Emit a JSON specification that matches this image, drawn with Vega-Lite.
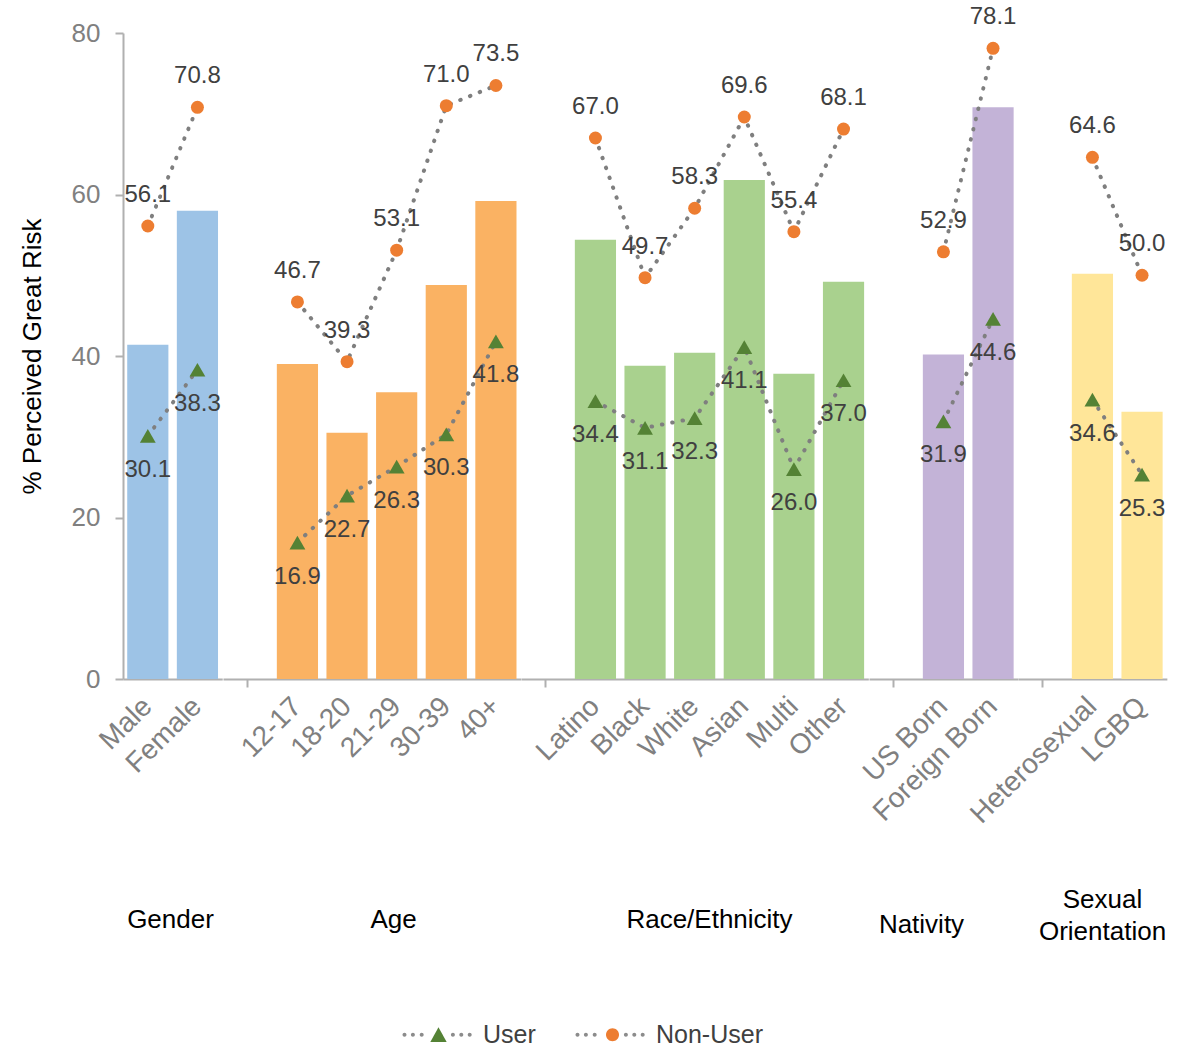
{
  "$schema": "https://vega.github.io/schema/vega-lite/v6.json",
  "background": "white",
  "padding": {"left": 19, "top": 5, "right": 5, "bottom": 0},
  "config": {"font": "Liberation Sans", "view": {"stroke": null}},
  "data": {"values": [
    {"Group": "Gender", "Category": "Male", "Overall": 41.4, "User": 30.1, "Non-User": 56.1},
    {"Group": "Gender", "Category": "Female", "Overall": 58.0, "User": 38.3, "Non-User": 70.8},
    {"Group": "Age", "Category": "12-17", "Overall": 39.0, "User": 16.9, "Non-User": 46.7},
    {"Group": "Age", "Category": "18-20", "Overall": 30.5, "User": 22.7, "Non-User": 39.3},
    {"Group": "Age", "Category": "21-29", "Overall": 35.5, "User": 26.3, "Non-User": 53.1},
    {"Group": "Age", "Category": "30-39", "Overall": 48.8, "User": 30.3, "Non-User": 71.0},
    {"Group": "Age", "Category": "40+", "Overall": 59.2, "User": 41.8, "Non-User": 73.5},
    {"Group": "Race/Ethnicity", "Category": "Latino", "Overall": 54.4, "User": 34.4, "Non-User": 67.0},
    {"Group": "Race/Ethnicity", "Category": "Black", "Overall": 38.8, "User": 31.1, "Non-User": 49.7},
    {"Group": "Race/Ethnicity", "Category": "White", "Overall": 40.4, "User": 32.3, "Non-User": 58.3},
    {"Group": "Race/Ethnicity", "Category": "Asian", "Overall": 61.8, "User": 41.1, "Non-User": 69.6},
    {"Group": "Race/Ethnicity", "Category": "Multi", "Overall": 37.8, "User": 26.0, "Non-User": 55.4},
    {"Group": "Race/Ethnicity", "Category": "Other", "Overall": 49.2, "User": 37.0, "Non-User": 68.1},
    {"Group": "Nativity", "Category": "US Born", "Overall": 40.2, "User": 31.9, "Non-User": 52.9},
    {"Group": "Nativity", "Category": "Foreign Born", "Overall": 70.8, "User": 44.6, "Non-User": 78.1},
    {"Group": "Sexual Orientation", "Category": "Heterosexual", "Overall": 50.2, "User": 34.6, "Non-User": 64.6},
    {"Group": "Sexual Orientation", "Category": "LGBQ", "Overall": 33.1, "User": 25.3, "Non-User": 50.0}
  ]},
  "spacing": 0,
  "bounds": "flush",
  "resolve": {"scale": {"x": "independent", "y": "shared", "fill": "shared", "color": "shared"}, "legend": {"color": "shared"}},
  "hconcat": [
    {
      "width": {"step": 49.619}, "height": 646,
      "transform": [{"filter": "datum.Group == 'Gender'"}],
      "encoding": {"x": {"field": "Category", "type": "nominal",
        "scale": {"domain": ["Male", "Female"], "paddingInner": 0.17, "paddingOuter": 0.085},
        "axis": {"title": "Gender", "titleX": 47, "titleY": 240, "titleAlign": "center", "titleBaseline": "middle", "titleAngle": 0, "titleFontSize": 26, "titleFontWeight": "normal", "titleColor": "#000000", "titleLineHeight": 32,
          "labelAngle": -45, "labelAlign": "right", "labelBaseline": "middle", "labelFontSize": 28, "labelColor": "#808080", "labelPadding": 15, "labelOverlap": false,
          "tickSize": 8, "tickWidth": 2, "tickColor": "#B0B0B0", "tickOpacity": {"condition": {"test": "datum.value == ' '", "value": 1}, "value": 0},
          "domainColor": "#B0B0B0", "domainWidth": 2, "grid": false}}},
      "layer": [
        {"mark": {"type": "bar"},
         "encoding": {
           "y": {"field": "Overall", "type": "quantitative", "scale": {"domain": [0, 80]},
             "axis": {"title": "% Perceived Great Risk", "values": [0, 20, 40, 60, 80], "grid": false, "domainColor": "#B0B0B0", "domainWidth": 2, "tickColor": "#B0B0B0", "tickWidth": 2, "tickSize": 8, "labelFontSize": 26, "labelColor": "#808080", "labelPadding": 15, "titleFontSize": 26, "titleFontWeight": "normal", "titleColor": "#000000", "titlePadding": 26}},
           "fill": {"field": "Group", "type": "nominal", "scale": {"domain": ["Gender", "Age", "Race/Ethnicity", "Nativity", "Sexual Orientation"], "range": ["#9DC3E6", "#FAB263", "#A9D18E", "#C3B3D7", "#FFE699"]}, "legend": null}}},
        {"transform": [{"fold": ["User", "Non-User"], "as": ["Series", "Value"]}],
         "encoding": {"y": {"field": "Value", "type": "quantitative", "scale": {"domain": [0, 80]},
             "axis": {"title": "% Perceived Great Risk", "values": [0, 20, 40, 60, 80], "grid": false, "domainColor": "#B0B0B0", "domainWidth": 2, "tickColor": "#B0B0B0", "tickWidth": 2, "tickSize": 8, "labelFontSize": 26, "labelColor": "#808080", "labelPadding": 15, "titleFontSize": 26, "titleFontWeight": "normal", "titleColor": "#000000", "titlePadding": 26}}},
         "layer": [
           {"mark": {"type": "line", "color": "#7F7F7F", "strokeWidth": 4, "strokeDash": [0.5, 10], "strokeCap": "round"},
            "encoding": {"detail": {"field": "Series"},
              "stroke": {"field": "Series", "type": "nominal", "sort": "descending", "scale": {"range": ["#7F7F7F", "#7F7F7F"]},
                "legend": {"orient": "none", "legendX": 303, "legendY": 989, "direction": "horizontal", "title": null, "padding": 0, "labelFontSize": 25, "labelColor": "#404040", "labelOffset": 32, "columnPadding": 39, "symbolSize": 256, "symbolStrokeWidth": 0,
                  "encoding": {"symbols": {
                    "shape": {"value": "M-4.5,0a0.25,0.25 0 1,0 0.5,0a0.25,0.25 0 1,0 -0.5,0M-3.45,0a0.25,0.25 0 1,0 0.5,0a0.25,0.25 0 1,0 -0.5,0M-2.35,0a0.25,0.25 0 1,0 0.5,0a0.25,0.25 0 1,0 -0.5,0M1.55,0a0.25,0.25 0 1,0 0.5,0a0.25,0.25 0 1,0 -0.5,0M2.6,0a0.25,0.25 0 1,0 0.5,0a0.25,0.25 0 1,0 -0.5,0M3.65,0a0.25,0.25 0 1,0 0.5,0a0.25,0.25 0 1,0 -0.5,0"},
                    "fill": {"value": "#8C8C8C"},
                    "stroke": {"value": "transparent"},
                    "size": {"value": 256},
                    "opacity": {"value": 1}}}}}}},
           {"transform": [{"filter": "datum.Series == 'User'"}], "mark": {"type": "point", "shape": "triangle-up", "filled": true, "opacity": 1, "size": 250},
            "encoding": {"color": {"field": "Series", "type": "nominal", "scale": {"domain": ["User", "Non-User"], "range": ["#548235", "#ED7D31"]},
              "legend": {"orient": "none", "legendX": 303, "legendY": 989, "direction": "horizontal", "title": null, "padding": 0, "labelFontSize": 25, "labelExpr": "''", "labelOffset": 0, "columnPadding": 149, "symbolSize": 256, "symbolStrokeWidth": 0,
                "encoding": {"symbols": {
                  "shape": {"value": {"expr": "datum.value == 'User' ? 'M-1.02,0.9L1.02,0.9L0,-0.95Z' : 'M-0.8125,0a0.8125,0.8125 0 1,0 1.625,0a0.8125,0.8125 0 1,0 -1.625,0'"}},
                  "size": {"value": 256},
                  "stroke": {"value": "transparent"},
                  "opacity": {"value": 1}}}}}}},
           {"transform": [{"filter": "datum.Series == 'Non-User'"}], "mark": {"type": "point", "shape": "circle", "filled": true, "opacity": 1, "size": 169},
            "encoding": {"color": {"field": "Series", "type": "nominal", "scale": {"domain": ["User", "Non-User"], "range": ["#548235", "#ED7D31"]}}}},
           {"transform": [{"filter": "datum.Series == 'User'"}], "mark": {"type": "text", "dy": 34, "fontSize": 24, "color": "#404040"}, "encoding": {"text": {"field": "Value", "type": "quantitative", "format": ".1f"}}},
           {"transform": [{"filter": "datum.Series == 'Non-User'"}], "mark": {"type": "text", "dy": -31, "fontSize": 24, "color": "#404040"}, "encoding": {"text": {"field": "Value", "type": "quantitative", "format": ".1f"}}}
         ]}
      ]
    },
    {
      "width": {"step": 49.619}, "height": 646,
      "transform": [{"filter": "datum.Group == 'Age'"}],
      "encoding": {"x": {"field": "Category", "type": "nominal",
        "scale": {"domain": [" ", "12-17", "18-20", "21-29", "30-39", "40+"], "paddingInner": 0.17, "paddingOuter": 0.085},
        "axis": {"title": "Age", "titleX": 170, "titleY": 240, "titleAlign": "center", "titleBaseline": "middle", "titleAngle": 0, "titleFontSize": 26, "titleFontWeight": "normal", "titleColor": "#000000", "titleLineHeight": 32,
          "labelAngle": -45, "labelAlign": "right", "labelBaseline": "middle", "labelFontSize": 28, "labelColor": "#808080", "labelPadding": 15, "labelOverlap": false,
          "tickSize": 8, "tickWidth": 2, "tickColor": "#B0B0B0", "tickOpacity": {"condition": {"test": "datum.value == ' '", "value": 1}, "value": 0},
          "domainColor": "#B0B0B0", "domainWidth": 2, "grid": false}}},
      "layer": [
        {"mark": {"type": "bar"},
         "encoding": {
           "y": {"field": "Overall", "type": "quantitative", "scale": {"domain": [0, 80]}, "axis": null},
           "fill": {"field": "Group", "type": "nominal", "scale": {"domain": ["Gender", "Age", "Race/Ethnicity", "Nativity", "Sexual Orientation"], "range": ["#9DC3E6", "#FAB263", "#A9D18E", "#C3B3D7", "#FFE699"]}, "legend": null}}},
        {"transform": [{"fold": ["User", "Non-User"], "as": ["Series", "Value"]}],
         "encoding": {"y": {"field": "Value", "type": "quantitative", "scale": {"domain": [0, 80]}, "axis": null}},
         "layer": [
           {"mark": {"type": "line", "color": "#7F7F7F", "strokeWidth": 4, "strokeDash": [0.5, 10], "strokeCap": "round"}, "encoding": {"detail": {"field": "Series"}}},
           {"transform": [{"filter": "datum.Series == 'User'"}], "mark": {"type": "point", "shape": "triangle-up", "filled": true, "opacity": 1, "size": 250},
            "encoding": {"color": {"field": "Series", "type": "nominal", "scale": {"domain": ["User", "Non-User"], "range": ["#548235", "#ED7D31"]}}}},
           {"transform": [{"filter": "datum.Series == 'Non-User'"}], "mark": {"type": "point", "shape": "circle", "filled": true, "opacity": 1, "size": 169},
            "encoding": {"color": {"field": "Series", "type": "nominal", "scale": {"domain": ["User", "Non-User"], "range": ["#548235", "#ED7D31"]}}}},
           {"transform": [{"filter": "datum.Series == 'User'"}], "mark": {"type": "text", "dy": 34, "fontSize": 24, "color": "#404040"}, "encoding": {"text": {"field": "Value", "type": "quantitative", "format": ".1f"}}},
           {"transform": [{"filter": "datum.Series == 'Non-User'"}], "mark": {"type": "text", "dy": -31, "fontSize": 24, "color": "#404040"}, "encoding": {"text": {"field": "Value", "type": "quantitative", "format": ".1f"}}}
         ]}
      ]
    },
    {
      "width": {"step": 49.619}, "height": 646,
      "transform": [{"filter": "datum.Group == 'Race/Ethnicity'"}],
      "encoding": {"x": {"field": "Category", "type": "nominal",
        "scale": {"domain": [" ", "Latino", "Black", "White", "Asian", "Multi", "Other"], "paddingInner": 0.17, "paddingOuter": 0.085},
        "axis": {"title": "Race/Ethnicity", "titleX": 188, "titleY": 240, "titleAlign": "center", "titleBaseline": "middle", "titleAngle": 0, "titleFontSize": 26, "titleFontWeight": "normal", "titleColor": "#000000", "titleLineHeight": 32,
          "labelAngle": -45, "labelAlign": "right", "labelBaseline": "middle", "labelFontSize": 28, "labelColor": "#808080", "labelPadding": 15, "labelOverlap": false,
          "tickSize": 8, "tickWidth": 2, "tickColor": "#B0B0B0", "tickOpacity": {"condition": {"test": "datum.value == ' '", "value": 1}, "value": 0},
          "domainColor": "#B0B0B0", "domainWidth": 2, "grid": false}}},
      "layer": [
        {"mark": {"type": "bar"},
         "encoding": {
           "y": {"field": "Overall", "type": "quantitative", "scale": {"domain": [0, 80]}, "axis": null},
           "fill": {"field": "Group", "type": "nominal", "scale": {"domain": ["Gender", "Age", "Race/Ethnicity", "Nativity", "Sexual Orientation"], "range": ["#9DC3E6", "#FAB263", "#A9D18E", "#C3B3D7", "#FFE699"]}, "legend": null}}},
        {"transform": [{"fold": ["User", "Non-User"], "as": ["Series", "Value"]}],
         "encoding": {"y": {"field": "Value", "type": "quantitative", "scale": {"domain": [0, 80]}, "axis": null}},
         "layer": [
           {"mark": {"type": "line", "color": "#7F7F7F", "strokeWidth": 4, "strokeDash": [0.5, 10], "strokeCap": "round"}, "encoding": {"detail": {"field": "Series"}}},
           {"transform": [{"filter": "datum.Series == 'User'"}], "mark": {"type": "point", "shape": "triangle-up", "filled": true, "opacity": 1, "size": 250},
            "encoding": {"color": {"field": "Series", "type": "nominal", "scale": {"domain": ["User", "Non-User"], "range": ["#548235", "#ED7D31"]}}}},
           {"transform": [{"filter": "datum.Series == 'Non-User'"}], "mark": {"type": "point", "shape": "circle", "filled": true, "opacity": 1, "size": 169},
            "encoding": {"color": {"field": "Series", "type": "nominal", "scale": {"domain": ["User", "Non-User"], "range": ["#548235", "#ED7D31"]}}}},
           {"transform": [{"filter": "datum.Series == 'User'"}], "mark": {"type": "text", "dy": 34, "fontSize": 24, "color": "#404040"}, "encoding": {"text": {"field": "Value", "type": "quantitative", "format": ".1f"}}},
           {"transform": [{"filter": "datum.Series == 'Non-User'"}], "mark": {"type": "text", "dy": -31, "fontSize": 24, "color": "#404040"}, "encoding": {"text": {"field": "Value", "type": "quantitative", "format": ".1f"}}}
         ]}
      ]
    },
    {
      "width": {"step": 49.619}, "height": 646,
      "transform": [{"filter": "datum.Group == 'Nativity'"}],
      "encoding": {"x": {"field": "Category", "type": "nominal",
        "scale": {"domain": [" ", "US Born", "Foreign Born"], "paddingInner": 0.17, "paddingOuter": 0.085},
        "axis": {"title": "Nativity", "titleX": 52, "titleY": 245, "titleAlign": "center", "titleBaseline": "middle", "titleAngle": 0, "titleFontSize": 26, "titleFontWeight": "normal", "titleColor": "#000000", "titleLineHeight": 32,
          "labelAngle": -45, "labelAlign": "right", "labelBaseline": "middle", "labelFontSize": 28, "labelColor": "#808080", "labelPadding": 15, "labelOverlap": false,
          "tickSize": 8, "tickWidth": 2, "tickColor": "#B0B0B0", "tickOpacity": {"condition": {"test": "datum.value == ' '", "value": 1}, "value": 0},
          "domainColor": "#B0B0B0", "domainWidth": 2, "grid": false}}},
      "layer": [
        {"mark": {"type": "bar"},
         "encoding": {
           "y": {"field": "Overall", "type": "quantitative", "scale": {"domain": [0, 80]}, "axis": null},
           "fill": {"field": "Group", "type": "nominal", "scale": {"domain": ["Gender", "Age", "Race/Ethnicity", "Nativity", "Sexual Orientation"], "range": ["#9DC3E6", "#FAB263", "#A9D18E", "#C3B3D7", "#FFE699"]}, "legend": null}}},
        {"transform": [{"fold": ["User", "Non-User"], "as": ["Series", "Value"]}],
         "encoding": {"y": {"field": "Value", "type": "quantitative", "scale": {"domain": [0, 80]}, "axis": null}},
         "layer": [
           {"mark": {"type": "line", "color": "#7F7F7F", "strokeWidth": 4, "strokeDash": [0.5, 10], "strokeCap": "round"}, "encoding": {"detail": {"field": "Series"}}},
           {"transform": [{"filter": "datum.Series == 'User'"}], "mark": {"type": "point", "shape": "triangle-up", "filled": true, "opacity": 1, "size": 250},
            "encoding": {"color": {"field": "Series", "type": "nominal", "scale": {"domain": ["User", "Non-User"], "range": ["#548235", "#ED7D31"]}}}},
           {"transform": [{"filter": "datum.Series == 'Non-User'"}], "mark": {"type": "point", "shape": "circle", "filled": true, "opacity": 1, "size": 169},
            "encoding": {"color": {"field": "Series", "type": "nominal", "scale": {"domain": ["User", "Non-User"], "range": ["#548235", "#ED7D31"]}}}},
           {"transform": [{"filter": "datum.Series == 'User'"}], "mark": {"type": "text", "dy": 34, "fontSize": 24, "color": "#404040"}, "encoding": {"text": {"field": "Value", "type": "quantitative", "format": ".1f"}}},
           {"transform": [{"filter": "datum.Series == 'Non-User'"}], "mark": {"type": "text", "dy": -31, "fontSize": 24, "color": "#404040"}, "encoding": {"text": {"field": "Value", "type": "quantitative", "format": ".1f"}}}
         ]}
      ]
    },
    {
      "width": {"step": 49.619}, "height": 646,
      "transform": [{"filter": "datum.Group == 'Sexual Orientation'"}],
      "encoding": {"x": {"field": "Category", "type": "nominal",
        "scale": {"domain": [" ", "Heterosexual", "LGBQ"], "paddingInner": 0.17, "paddingOuter": 0.085},
        "axis": {"title": ["Sexual", "Orientation"], "titleX": 84, "titleY": 220, "titleAlign": "center", "titleBaseline": "middle", "titleAngle": 0, "titleFontSize": 26, "titleFontWeight": "normal", "titleColor": "#000000", "titleLineHeight": 32,
          "labelAngle": -45, "labelAlign": "right", "labelBaseline": "middle", "labelFontSize": 28, "labelColor": "#808080", "labelPadding": 15, "labelOverlap": false,
          "tickSize": 8, "tickWidth": 2, "tickColor": "#B0B0B0", "tickOpacity": {"condition": {"test": "datum.value == ' '", "value": 1}, "value": 0},
          "domainColor": "#B0B0B0", "domainWidth": 2, "grid": false}}},
      "layer": [
        {"mark": {"type": "bar"},
         "encoding": {
           "y": {"field": "Overall", "type": "quantitative", "scale": {"domain": [0, 80]}, "axis": null},
           "fill": {"field": "Group", "type": "nominal", "scale": {"domain": ["Gender", "Age", "Race/Ethnicity", "Nativity", "Sexual Orientation"], "range": ["#9DC3E6", "#FAB263", "#A9D18E", "#C3B3D7", "#FFE699"]}, "legend": null}}},
        {"transform": [{"fold": ["User", "Non-User"], "as": ["Series", "Value"]}],
         "encoding": {"y": {"field": "Value", "type": "quantitative", "scale": {"domain": [0, 80]}, "axis": null}},
         "layer": [
           {"mark": {"type": "line", "color": "#7F7F7F", "strokeWidth": 4, "strokeDash": [0.5, 10], "strokeCap": "round"}, "encoding": {"detail": {"field": "Series"}}},
           {"transform": [{"filter": "datum.Series == 'User'"}], "mark": {"type": "point", "shape": "triangle-up", "filled": true, "opacity": 1, "size": 250},
            "encoding": {"color": {"field": "Series", "type": "nominal", "scale": {"domain": ["User", "Non-User"], "range": ["#548235", "#ED7D31"]}}}},
           {"transform": [{"filter": "datum.Series == 'Non-User'"}], "mark": {"type": "point", "shape": "circle", "filled": true, "opacity": 1, "size": 169},
            "encoding": {"color": {"field": "Series", "type": "nominal", "scale": {"domain": ["User", "Non-User"], "range": ["#548235", "#ED7D31"]}}}},
           {"transform": [{"filter": "datum.Series == 'User'"}], "mark": {"type": "text", "dy": 34, "fontSize": 24, "color": "#404040"}, "encoding": {"text": {"field": "Value", "type": "quantitative", "format": ".1f"}}},
           {"transform": [{"filter": "datum.Series == 'Non-User'"}], "mark": {"type": "text", "dy": -31, "fontSize": 24, "color": "#404040"}, "encoding": {"text": {"field": "Value", "type": "quantitative", "format": ".1f"}}}
         ]}
      ]
    }
  ]
}
